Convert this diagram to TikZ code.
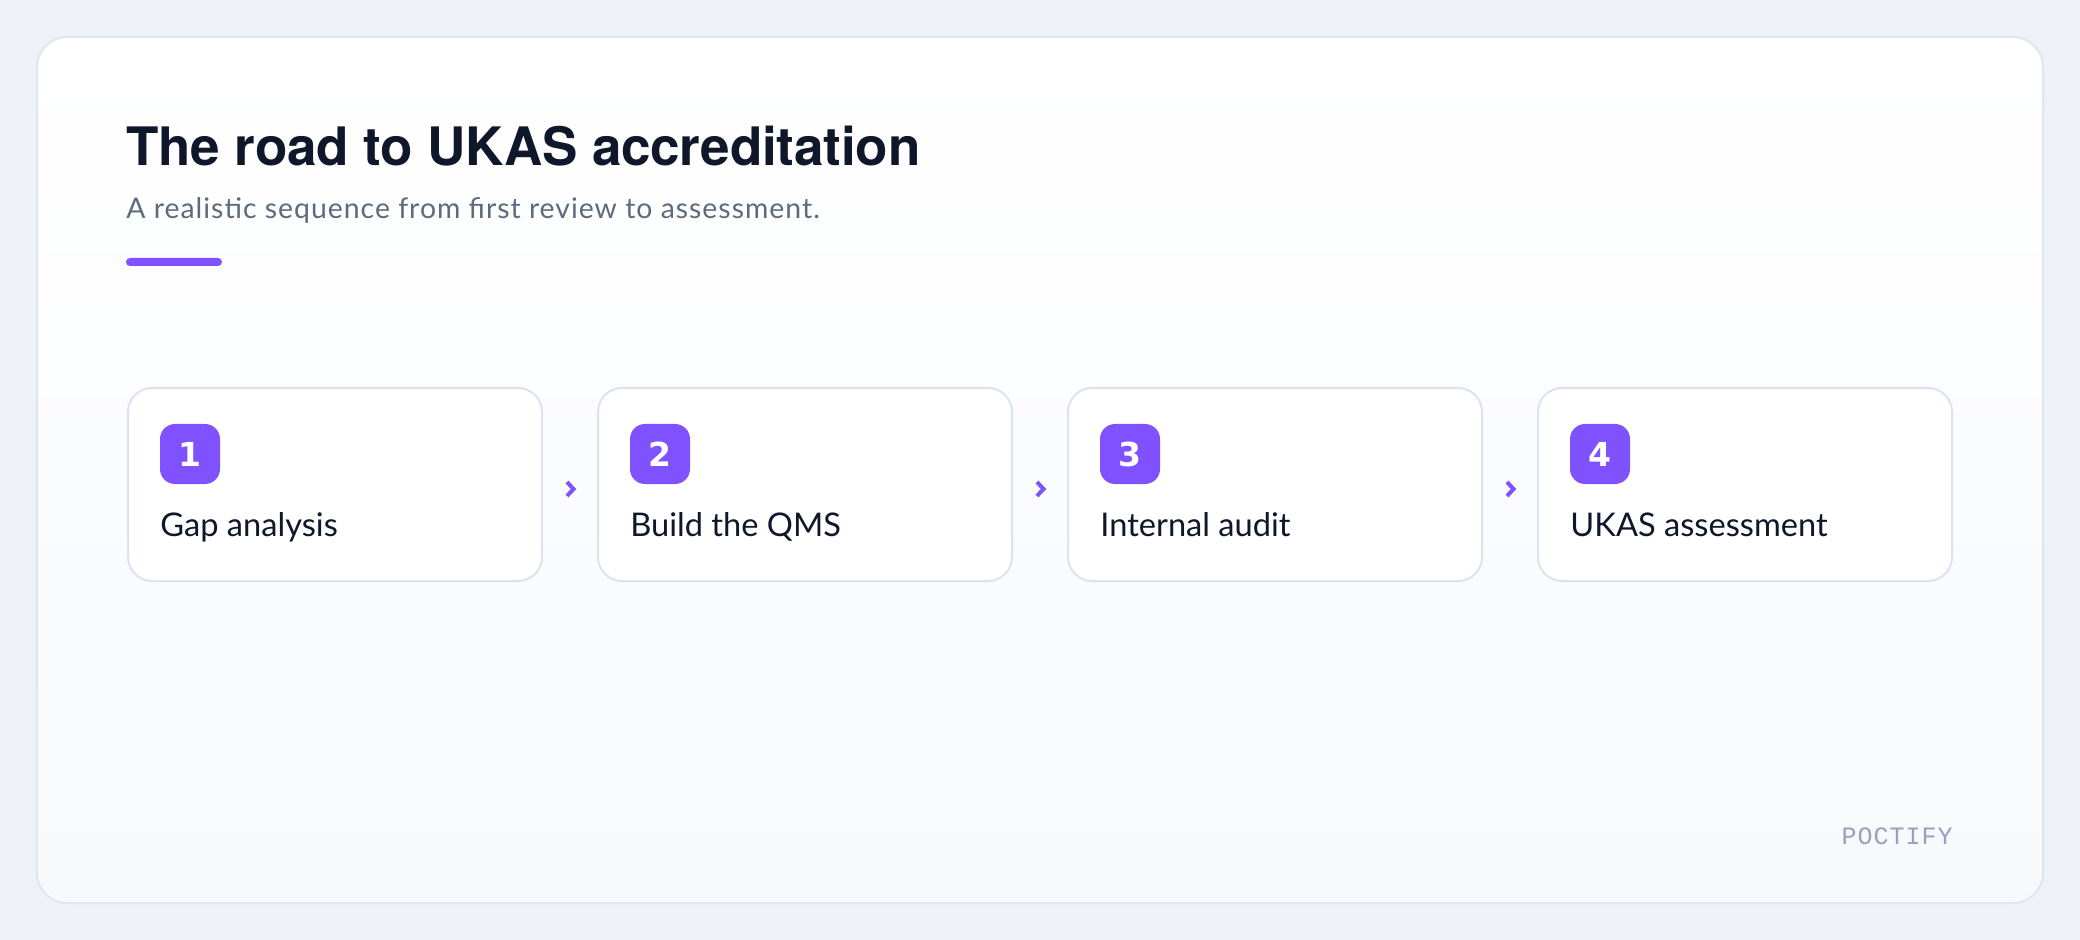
\documentclass[tikz,border=0pt]{standalone}
\usepackage{fontspec}
\setmainfont{Lato}
\newfontfamily\titlefont[LetterSpace=-0.3]{TeX Gyre Heros}
\newfontfamily\subfont[LetterSpace=3.5]{Lato}
\newfontfamily\numfont{DejaVu Sans}
\newfontfamily\markfont[LetterSpace=4]{Liberation Mono}
\usetikzlibrary{calc, positioning}
\definecolor{pagebg}{HTML}{EEF1F5}
\definecolor{panelend}{HTML}{F7F9FC}
\definecolor{panelline}{HTML}{E1E6EE}
\definecolor{cardline}{HTML}{DDE3EE}
\definecolor{ink}{HTML}{0F172A}
\definecolor{slate}{HTML}{5E6A7E}
\definecolor{brandgray}{HTML}{94A3B8}
\definecolor{violet}{HTML}{7F51FF}
\tikzset{
	stepcard/.style={draw=cardline, line width=1pt, fill=white, rounded corners=12pt, minimum width=207pt, minimum height=96.5pt, inner sep=0pt},
	badge/.style={fill=violet, rounded corners=7.5pt, minimum size=30pt, inner sep=0pt, text=white, font=\numfont\bfseries\fontsize{16.5}{16.5}\selectfont},
	steplabel/.style={anchor=base west, inner sep=0pt, text=ink, font=\fontsize{16.3}{16.3}\selectfont},
	chev/.style={draw=violet, line width=2pt, line join=miter}
}

\begin{document}
\begin{tikzpicture}[x=0.5pt, y=-0.5pt]
			\fill[pagebg] (0,0) rectangle (2080,940);
			\useasboundingbox (0,0) rectangle (2080,940);
			\shade[top color=white, bottom color=panelend, rounded corners=15pt] (37,37) rectangle (2043,903);
			\draw[panelline, line width=1pt, rounded corners=15pt] (37,37) rectangle (2043,903);
			\path (126,166) node[anchor=base west, inner sep=0pt, text=ink, font=\titlefont\bfseries\fontsize{26.5}{26.5}\selectfont] (title) {The road to UKAS accreditation};
			\path (126,219) node[anchor=base west, inner sep=0pt, text=slate, font=\subfont\fontsize{14.2}{14.2}\selectfont] (subtitle) {A realistic sequence from first review to assessment.};
			\fill[violet, rounded corners=2pt] (126,258) rectangle (222,266);
			\path (335,484.5) node[stepcard] (step 1) {};
			\path node[stepcard, right=27pt of step 1] (step 2) {};
			\path node[stepcard, right=27pt of step 2] (step 3) {};
			\path node[stepcard, right=27pt of step 3] (step 4) {};
			\path ([shift={(63,67)}]step 1.north west) node[badge] (badge 1) {1};
			\path ([shift={(63,67)}]step 2.north west) node[badge] (badge 2) {2};
			\path ([shift={(63,67)}]step 3.north west) node[badge] (badge 3) {3};
			\path ([shift={(63,67)}]step 4.north west) node[badge] (badge 4) {4};
			\path ([shift={(33,149)}]step 1.north west) node[steplabel] (label 1) {Gap analysis};
			\path ([shift={(33,149)}]step 2.north west) node[steplabel] (label 2) {Build the QMS};
			\path ([shift={(33,149)}]step 3.north west) node[steplabel] (label 3) {Internal audit};
			\path ([shift={(33,149)}]step 4.north west) node[steplabel] (label 4) {UKAS assessment};
			\path ($(step 1.east)!0.5!(step 2.west)$) ++(0,4.5) coordinate (chev 1);
			\path ($(step 2.east)!0.5!(step 3.west)$) ++(0,4.5) coordinate (chev 2);
			\path ($(step 3.east)!0.5!(step 4.west)$) ++(0,4.5) coordinate (chev 3);
			\draw[chev] ([shift={(-3,-7)}]chev 1) -- ([shift={(3.5,0)}]chev 1) -- ([shift={(-3,7)}]chev 1);
			\draw[chev] ([shift={(-3,-7)}]chev 2) -- ([shift={(3.5,0)}]chev 2) -- ([shift={(-3,7)}]chev 2);
			\draw[chev] ([shift={(-3,-7)}]chev 3) -- ([shift={(3.5,0)}]chev 3) -- ([shift={(-3,7)}]chev 3);
			\path (1953,844) node[anchor=base east, inner sep=0pt, text=brandgray, font=\markfont\fontsize{12.5}{12.5}\selectfont] (brand) {POCTIFY};
		\end{tikzpicture}
\end{document}
